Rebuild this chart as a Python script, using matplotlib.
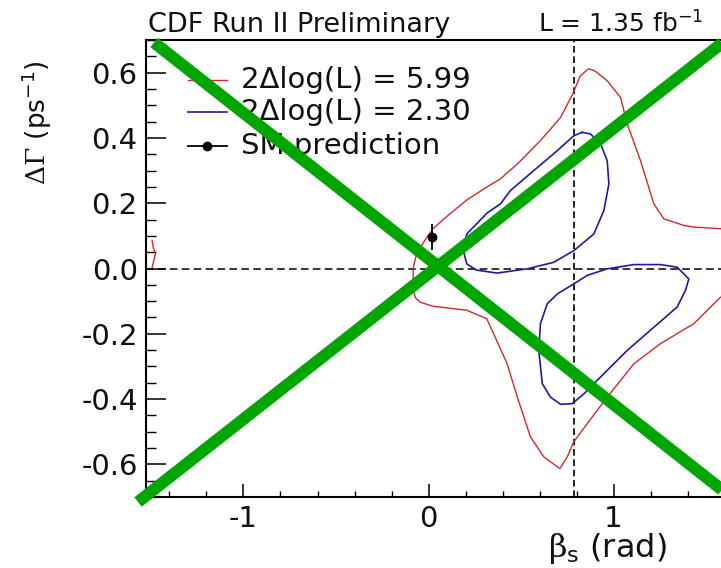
import numpy as np
import matplotlib
matplotlib.use("Agg")
import matplotlib.pyplot as plt
from matplotlib.ticker import MultipleLocator, FixedLocator, FixedFormatter
from matplotlib.lines import Line2D

plt.rcParams["font.family"] = ["DejaVu Sans"]
plt.rcParams["axes.unicode_minus"] = False
plt.rcParams["mathtext.fontset"] = "custom"
plt.rcParams["mathtext.rm"] = "DejaVu Serif"
plt.rcParams["mathtext.sf"] = "DejaVu Sans"
plt.rcParams["mathtext.it"] = "DejaVu Serif:italic"

# ---- contour data: beta_s (rad) vs Delta Gamma (ps^-1) ----
# 2 Delta log(L) = 5.99 (95% CL), main branch
red_beta = [1.578, 1.434, 1.380, 1.272, 1.218, 1.146, 1.074, 1.038, 0.966, 0.900,
            0.865, 0.820, 0.780, 0.713, 0.605, 0.480, 0.389, 0.300, 0.207, 0.100,
            0.026, -0.019, -0.064, -0.082, -0.083, -0.082, -0.070, -0.046, 0.026,
            0.120, 0.207, 0.315, 0.360, 0.425, 0.480, 0.551, 0.623, 0.710, 0.750,
            0.785, 0.858, 0.966, 1.110, 1.254, 1.434, 1.578]
red_dgamma = [0.122, 0.127, 0.132, 0.152, 0.198, 0.330, 0.443, 0.524, 0.575, 0.605,
              0.612, 0.590, 0.535, 0.462, 0.392, 0.320, 0.275, 0.244, 0.210, 0.160,
              0.123, 0.087, 0.045, 0.004, -0.030, -0.067, -0.090, -0.103, -0.116,
              -0.122, -0.128, -0.154, -0.210, -0.292, -0.394, -0.516, -0.577, -0.613,
              -0.577, -0.531, -0.475, -0.394, -0.292, -0.230, -0.169, -0.088]
# 5.99 contour, piece wrapping in at the left edge
red_edge_beta = [-1.494, -1.488, -1.476, -1.485, -1.494]
red_edge_dgamma = [0.086, 0.065, 0.045, 0.024, 0.004]

# 2 Delta log(L) = 2.30 (39% CL), two islands
blue_up_beta = [0.831, 0.786, 0.696, 0.569, 0.443, 0.389, 0.317, 0.207, 0.188, 0.207,
                0.260, 0.371, 0.534, 0.677, 0.786, 0.894, 0.948, 0.975, 0.966, 0.930,
                0.876, 0.831]
blue_up_dgamma = [0.417, 0.407, 0.361, 0.300, 0.239, 0.198, 0.170, 0.106, 0.055, 0.014,
                  -0.005, -0.014, -0.001, 0.019, 0.055, 0.106, 0.178, 0.259, 0.330, 0.382,
                  0.412, 0.417]
blue_lo_beta = [0.786, 0.696, 0.642, 0.605, 0.596, 0.615, 0.659, 0.714, 0.777, 0.840,
                0.948, 1.074, 1.218, 1.344, 1.389, 1.407, 1.344, 1.254, 1.110, 0.966,
                0.858, 0.786]
blue_lo_dgamma = [-0.047, -0.078, -0.108, -0.169, -0.251, -0.353, -0.394, -0.416, -0.414,
                  -0.384, -0.322, -0.251, -0.180, -0.118, -0.067, -0.032, 0.004, 0.012,
                  0.012, -0.001, -0.021, -0.047]

# Standard Model prediction
sm_beta = [0.02]
sm_dgamma = [0.096]
sm_err = [0.039]

legend_labels = ["2\u0394log(L) = 5.99", "2\u0394log(L) = 2.30", "SM prediction"]
xtick_vals = [-1, 0, 1]
ytick_vals = [-0.6, -0.4, -0.2, 0.0, 0.2, 0.4, 0.6]

RED = "#d42a2a"
BLUE = "#1c1ca8"
GREEN = "#00a600"
INK = "#111111"

fig = plt.figure(figsize=(7.21, 5.68), dpi=100)
W, H = 721, 568
ax_l, ax_r, ax_t, ax_b = 146, 721, 40, 497
ax = fig.add_axes([ax_l / W, 1 - ax_b / H, (ax_r - ax_l) / W, (ax_b - ax_t) / H])

ax.set_xlim(-1.527, 1.581)
ax.set_ylim(-0.70, 0.70)

# reference lines
ax.axhline(0.0, color="black", lw=1.1, dashes=(5.0, 2.8), zorder=1)
ax.axvline(np.pi / 4, color="black", lw=1.2, dashes=(4.0, 2.2), zorder=1)

ax.plot(red_beta, red_dgamma, color=RED, lw=1.0, zorder=2)
ax.plot(red_edge_beta, red_edge_dgamma, color=RED, lw=1.0, zorder=2)
ax.plot(blue_up_beta, blue_up_dgamma, color=BLUE, lw=1.2, zorder=2)
ax.plot(blue_lo_beta, blue_lo_dgamma, color=BLUE, lw=1.2, zorder=2)
ax.errorbar(sm_beta, sm_dgamma, yerr=sm_err, fmt="o", color="black", ms=6,
            elinewidth=1.3, capsize=0, zorder=3)

# axes styling
for side in ("left", "bottom", "top"):
    ax.spines[side].set_linewidth(1.5)
    ax.spines[side].set_color("black")
ax.spines["right"].set_visible(False)

ax.xaxis.set_major_locator(FixedLocator(xtick_vals))
ax.xaxis.set_major_formatter(FixedFormatter([str(v) for v in xtick_vals]))
ax.xaxis.set_minor_locator(MultipleLocator(0.2))
ax.yaxis.set_major_locator(FixedLocator(ytick_vals))
ax.yaxis.set_major_formatter(FixedFormatter([f"{v:.1f}" for v in ytick_vals]))
ax.yaxis.set_minor_locator(MultipleLocator(0.05))

ax.tick_params(axis="both", which="both", direction="in", colors="black",
               labelcolor=INK, labelsize=21, top=False, right=False)
ax.tick_params(axis="x", which="major", length=9.5, width=1.1, pad=6)
ax.tick_params(axis="x", which="minor", length=4.5, width=1.0)
ax.tick_params(axis="y", which="major", length=14.5, width=1.1, pad=6)
ax.tick_params(axis="y", which="minor", length=7.2, width=1.0)

# axis titles
fig.text(37 / W, 1 - 60 / H, r"$\mathrm{\Delta\Gamma}$ (ps$^{\mathsf{-1}}$)",
         rotation=90, ha="center", va="top", fontsize=19, color=INK)
fig.text(667 / W, 1 - 557 / H, r"$\mathrm{\beta}_{\mathsf{s}}$ (rad)",
         ha="right", va="baseline", fontsize=23, color=INK)

# header texts
fig.text(148 / W, 1 - 32 / H, "CDF Run II Preliminary", ha="left",
         va="baseline", fontsize=19.5, color=INK)
fig.text(703 / W, 1 - 32 / H, r"L = 1.35 fb$^{\mathsf{-1}}$", ha="right",
         va="baseline", fontsize=18, color=INK)

# legend
def yfrac(py):
    return (ax_b - py) / (ax_b - ax_t)

def xfrac(px):
    return (px - ax_l) / (ax_r - ax_l)

rows = [80, 112, 146]
styles = [dict(color=RED, lw=1.0), dict(color=BLUE, lw=1.2), dict(color="black", lw=1.3)]
for label, py, st in zip(legend_labels, rows, styles):
    ax.plot([xfrac(188), xfrac(227)], [yfrac(py), yfrac(py)], transform=ax.transAxes,
            clip_on=False, **st)
    ax.text(xfrac(241), yfrac(py), label, transform=ax.transAxes, ha="left",
            va="center", fontsize=21, color=INK)
ax.plot([xfrac(207)], [yfrac(rows[2])], "o", color="black", ms=6,
        transform=ax.transAxes, clip_on=False)

# crossing-out overlay
for (x0, y0), (x1, y1) in [((154, 42.5), (740, 504)), ((138, 502), (740, 29))]:
    fig.add_artist(Line2D([x0 / W, x1 / W], [1 - y0 / H, 1 - y1 / H],
                          transform=fig.transFigure, color=GREEN, lw=8.6,
                          solid_capstyle="butt", zorder=10))

fig.savefig("out.png", dpi=100)
